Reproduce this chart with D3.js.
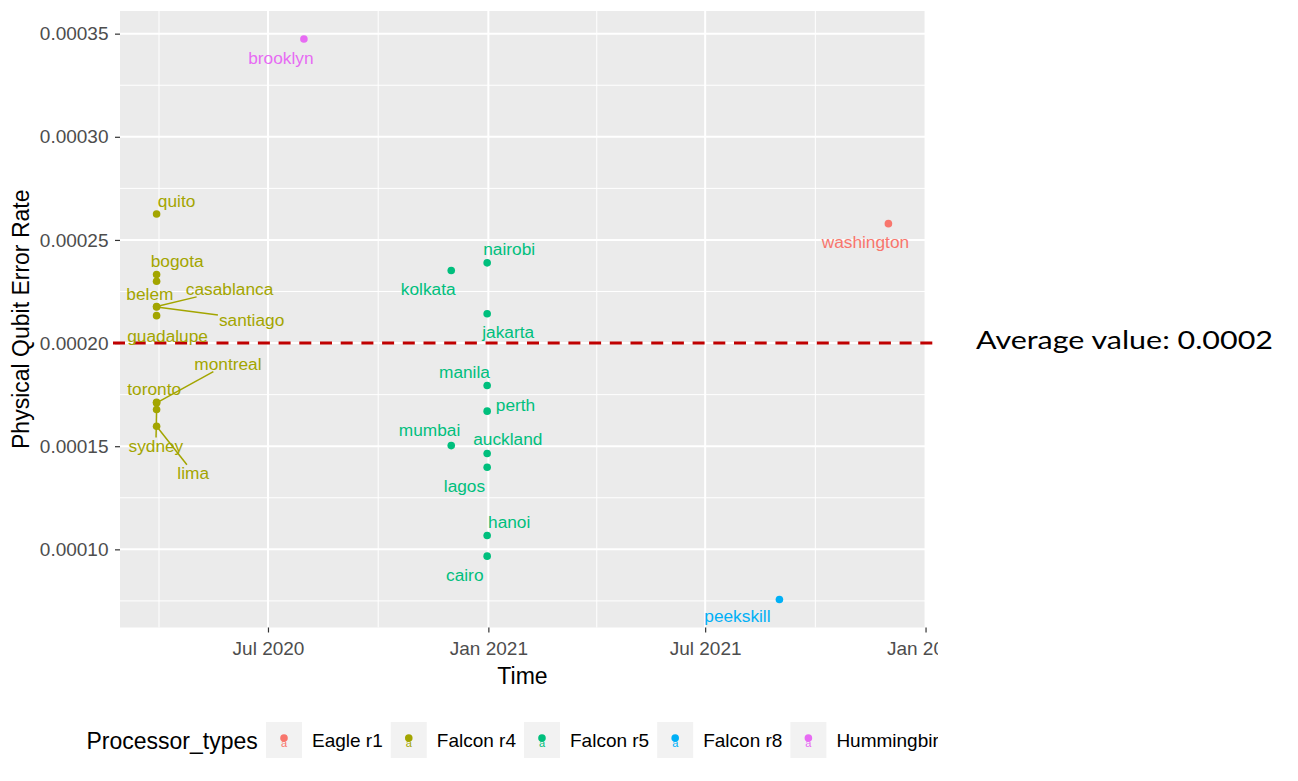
<!DOCTYPE html>
<html>
<head>
<meta charset="utf-8">
<script src="https://cdn.jsdelivr.net/npm/d3@7"></script>
<style>
  body { margin: 0; background: #fff; }
  text { font-family: "Liberation Sans", Arial, sans-serif; }
</style>
</head>
<body>
<div id="chart"></div>
<script>
// processor families and their ggplot hue colours
const processorTypes = ["Eagle r1", "Falcon r4", "Falcon r5", "Falcon r8", "Hummingbird r2"];
const typeColors = ["#F8766D", "#A3A500", "#00BF7D", "#00B0F6", "#E76BF3"];

// one entry per backend
const backends = ["washington", "quito", "bogota", "belem", "casablanca", "santiago", "guadalupe",
  "toronto", "montreal", "sydney", "lima", "nairobi", "kolkata", "jakarta", "manila", "perth",
  "mumbai", "auckland", "lagos", "hanoi", "cairo", "peekskill", "brooklyn"];
const backendType = ["Eagle r1", "Falcon r4", "Falcon r4", "Falcon r4", "Falcon r4", "Falcon r4", "Falcon r4",
  "Falcon r4", "Falcon r4", "Falcon r4", "Falcon r4", "Falcon r5", "Falcon r5", "Falcon r5", "Falcon r5", "Falcon r5",
  "Falcon r5", "Falcon r5", "Falcon r5", "Falcon r5", "Falcon r5", "Falcon r8", "Hummingbird r2"];
const releaseDates = ["2021-12-01", "2020-03-30", "2020-03-30", "2020-03-30", "2020-03-30", "2020-03-30", "2020-03-30",
  "2020-03-30", "2020-03-30", "2020-03-30", "2020-03-30", "2020-12-31", "2020-12-01", "2020-12-31", "2020-12-31", "2020-12-31",
  "2020-12-01", "2020-12-31", "2020-12-31", "2020-12-31", "2020-12-31", "2021-09-01", "2020-07-31"];
const errorRates = [0.0002579, 0.0002626, 0.0002332, 0.0002300, 0.0002177, 0.0002175, 0.0002133,
  0.0001713, 0.0001710, 0.0001678, 0.0001597, 0.0002389, 0.0002352, 0.0002142, 0.0001794, 0.0001670,
  0.0001503, 0.0001465, 0.0001398, 0.0001067, 0.0000967, 0.0000757, 0.0003474];

const averageValue = 0.0002;

// where the repelled labels ended up (pixel offset of label centre from its point)
const labelOffset = {
  washington: [-23, 18.7], brooklyn: [-23, 19], peekskill: [-42, 16],
  quito: [20, -12.6], bogota: [20.6, -13.3], belem: [-6.7, 12.6],
  casablanca: [73, -17.7, true], santiago: [95, 12.5, true], guadalupe: [11, 20],
  toronto: [-2.4, -13.4], montreal: [71.3, -39.3, true], sydney: [-0.7, 36, true], lima: [36.6, 46.6, true],
  nairobi: [22, -14], kolkata: [-23, 18.3], jakarta: [21, 18.4], manila: [-22.7, -13.3],
  perth: [28.3, -6.7], mumbai: [-21.7, -16], auckland: [20.6, -14.7], lagos: [-22.7, 19],
  hanoi: [22, -13.3], cairo: [-22.4, 18.3]
};

const W = 1298, H = 781;
const panel = {left: 120, right: 925, top: 11, bottom: 627.5};
const clipRight = 938;

const parseDate = d3.timeParse("%Y-%m-%d");
const points = backends.map((name, i) => ({
  name: name, type: backendType[i], date: parseDate(releaseDates[i]), value: errorRates[i]
}));

const svg = d3.select("#chart").append("svg")
    .attr("width", W)
    .attr("height", H);

svg.append("defs").append("clipPath")
    .attr("id", "crop")
  .append("rect")
    .attr("x", 0).attr("y", 0)
    .attr("width", clipRight).attr("height", H);

const g = svg.append("g").attr("clip-path", "url(#crop)");

// ggplot style 5% expansion
function expand(ext) {
  const pad = (ext[1] - ext[0]) * 0.05;
  return [ext[0] - pad, ext[1] + pad];
}
const tDom = expand(d3.extent(points, d => +d.date));
const x = d3.scaleTime()
    .domain([new Date(tDom[0]), new Date(tDom[1])])
    .range([panel.left, panel.right]);
const y = d3.scaleLinear()
    .domain(expand(d3.extent(points, d => d.value)))
    .range([panel.bottom, panel.top]);

const color = d3.scaleOrdinal().domain(processorTypes).range(typeColors);

// panel background
g.append("rect")
    .attr("x", panel.left).attr("y", panel.top)
    .attr("width", panel.right - panel.left)
    .attr("height", panel.bottom - panel.top)
    .attr("fill", "#EBEBEB");

// breaks
const xMajor = d3.timeMonth.every(6).range(d3.timeYear.floor(x.domain()[0]), d3.timeDay.offset(x.domain()[1], 1));
const xTicks = xMajor.filter(d => d >= x.domain()[0]);
const xMinor = d3.pairs(xMajor).map(p => new Date((+p[0] + +p[1]) / 2));
const yTicks = y.ticks(6);
const yStep = yTicks[1] - yTicks[0];
const yMinor = d3.range(yTicks[0] - yStep / 2, y.domain()[1], yStep).filter(v => v > y.domain()[0]);

const grid = g.append("g").attr("stroke", "#fff");
grid.selectAll(".ymin").data(yMinor).join("line")
    .attr("x1", panel.left).attr("x2", panel.right)
    .attr("y1", d => y(d)).attr("y2", d => y(d))
    .attr("stroke-width", 1);
grid.selectAll(".xmin").data(xMinor).join("line")
    .attr("y1", panel.top).attr("y2", panel.bottom)
    .attr("x1", d => x(d)).attr("x2", d => x(d))
    .attr("stroke-width", 1);
grid.selectAll(".ymaj").data(yTicks).join("line")
    .attr("x1", panel.left).attr("x2", panel.right)
    .attr("y1", d => y(d)).attr("y2", d => y(d))
    .attr("stroke-width", 2);
grid.selectAll(".xmaj").data(xTicks).join("line")
    .attr("y1", panel.top).attr("y2", panel.bottom)
    .attr("x1", d => x(d)).attr("x2", d => x(d))
    .attr("stroke-width", 2);

// axes
const yAxis = g.append("g")
    .attr("transform", `translate(${panel.left},0)`)
    .call(d3.axisLeft(y).tickValues(yTicks).tickFormat(d3.format(".5f")).tickSize(5).tickPadding(6.5));
const xAxis = g.append("g")
    .attr("transform", `translate(0,${panel.bottom})`)
    .call(d3.axisBottom(x).tickValues(xTicks).tickFormat(d3.timeFormat("%b %Y")).tickSize(5).tickPadding(9));
[xAxis, yAxis].forEach(ax => {
  ax.select(".domain").remove();
  ax.selectAll(".tick line").attr("stroke", "#333").attr("stroke-width", 1.2);
  ax.selectAll(".tick text")
      .attr("fill", "#4D4D4D")
      .style("font-size", "19px")
      .style("font-family", '"Liberation Sans", Arial, sans-serif');
});

// axis titles
g.append("text")
    .attr("transform", `translate(29,${(panel.top + panel.bottom) / 2}) rotate(-90)`)
    .attr("text-anchor", "middle")
    .style("font-size", "23px")
    .text("Physical Qubit Error Rate");
g.append("text")
    .attr("x", (panel.left + panel.right) / 2)
    .attr("y", 684)
    .attr("text-anchor", "middle")
    .style("font-size", "23px")
    .text("Time");

// average line
g.append("line")
    .attr("x1", panel.left - 7).attr("x2", clipRight)
    .attr("y1", y(averageValue)).attr("y2", y(averageValue))
    .attr("stroke", "#C00000")
    .attr("stroke-width", 3)
    .attr("stroke-dasharray", "12,8.7");

// labels with their repel segments
const labels = g.append("g").selectAll("g").data(points).join("g");
labels.each(function(d) {
  const off = labelOffset[d.name];
  const px = x(d.date), py = y(d.value);
  const lx = px + off[0], ly = py + off[1];
  const sel = d3.select(this);
  const t = sel.append("text")
      .attr("x", lx).attr("y", ly)
      .attr("dy", "0.35em")
      .attr("text-anchor", "middle")
      .attr("fill", color(d.type))
      .style("font-size", "17.3px")
      .text(d.name);
  if (off[2]) {
    const hw = t.node().getComputedTextLength() / 2 + 1, hh = 8;
    const dx = px - lx, dy = py - ly;
    const s = Math.min(Math.abs(hw / dx) || Infinity, Math.abs(hh / dy) || Infinity);
    sel.insert("line", "text")
        .attr("x1", px).attr("y1", py)
        .attr("x2", lx + dx * s).attr("y2", ly + dy * s)
        .attr("stroke", color(d.type))
        .attr("stroke-width", 1.5);
  }
});

// points
g.append("g").selectAll("circle").data(points).join("circle")
    .attr("cx", d => x(d.date))
    .attr("cy", d => y(d.value))
    .attr("r", 3.8)
    .attr("fill", d => color(d.type));

// legend
const legend = g.append("g");
legend.append("text")
    .attr("x", 86.5).attr("y", 749)
    .style("font-size", "23px")
    .text("Processor_types");
let lx = 266;
processorTypes.forEach(p => {
  legend.append("rect")
      .attr("x", lx).attr("y", 722)
      .attr("width", 36).attr("height", 36)
      .attr("fill", "#F2F2F2");
  legend.append("text")
      .attr("x", lx + 18).attr("y", 747)
      .attr("text-anchor", "middle")
      .attr("fill", color(p))
      .style("font-size", "11px")
      .text("a");
  legend.append("circle")
      .attr("cx", lx + 18).attr("cy", 738)
      .attr("r", 3.8)
      .attr("fill", color(p));
  const t = legend.append("text")
      .attr("x", lx + 46).attr("y", 747)
      .style("font-size", "19px")
      .text(p);
  lx += 46 + t.node().getComputedTextLength() + 8;
});

// note added beside the chart
svg.append("text")
    .attr("x", 976).attr("y", 348.5)
    .attr("textLength", 297)
    .attr("lengthAdjust", "spacingAndGlyphs")
    .style("font-family", "Lato, 'Open Sans', sans-serif")
    .style("font-size", "25px")
    .attr("fill", "#000")
    .text("Average value: 0.0002");
</script>
</body>
</html>
